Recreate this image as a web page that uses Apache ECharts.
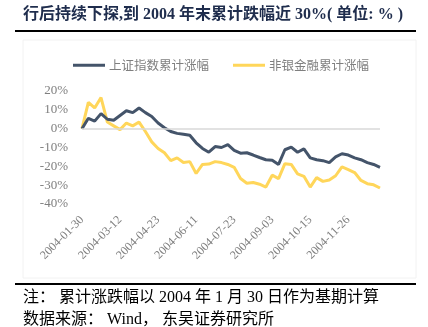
<!DOCTYPE html>
<html><head><meta charset="utf-8">
<script src="https://cdn.jsdelivr.net/npm/echarts@6/dist/echarts.min.js"></script>
<style>html,body{margin:0;padding:0;background:#fff;}#c{width:428px;height:327px;}</style>
</head><body><div id="c"></div>
<script>
const categories = ['2004-01-30','2004-02-06','2004-02-13','2004-02-20','2004-02-27','2004-03-05','2004-03-12','2004-03-19','2004-03-26','2004-04-02','2004-04-09','2004-04-16','2004-04-23','2004-04-30','2004-05-14','2004-05-21','2004-05-28','2004-06-04','2004-06-11','2004-06-18','2004-06-25','2004-07-02','2004-07-09','2004-07-16','2004-07-23','2004-07-30','2004-08-06','2004-08-13','2004-08-20','2004-08-27','2004-09-03','2004-09-10','2004-09-17','2004-09-24','2004-09-30','2004-10-08','2004-10-15','2004-10-22','2004-10-29','2004-11-05','2004-11-12','2004-11-19','2004-11-26','2004-12-03','2004-12-10','2004-12-17','2004-12-24','2004-12-31'];
const shIndex = [0,5.5,4,8,5,4.5,7,9.5,8.5,11,8.5,6.5,3,0.5,-1.5,-2.5,-3,-3.5,-7.5,-10.5,-12.5,-9.5,-10,-8.5,-11.5,-13,-12.8,-14,-15.3,-16.5,-16.8,-19,-11.2,-9.8,-12.5,-10.7,-15.5,-16.5,-17,-18,-15,-13.3,-14,-15.5,-16.5,-18,-19,-20.5];
const nonBank = [0,14,11,16.5,3.5,1.5,-0.5,3,1.5,3.5,-1.5,-7,-10.5,-12.8,-17,-15.5,-18,-17.5,-23.8,-19,-18.8,-17.5,-18,-19,-20.5,-26.5,-29,-28.6,-29.5,-31,-24.7,-26.5,-18.6,-19,-24,-25.3,-31,-26,-28,-27.3,-25,-20.3,-21.7,-23.3,-27.5,-29.2,-29.8,-31.5];
const seriesNames = ['上证指数累计涨幅','非银金融累计涨幅'];
const yTicks = {min:-40, max:20, interval:10};

const chart = echarts.init(document.getElementById('c'), null, {renderer:'canvas'});
const serif = '"Liberation Serif","Noto Sans CJK SC",serif';
chart.setOption({
  animation:false,
  grid:{left:82,right:48,top:91,bottom:123},
  legend:{
    top:54,left:68,itemWidth:32,itemHeight:3,itemGap:24,
    icon:'rect',
    textStyle:{color:'#7f7f7f',fontSize:12.5,fontFamily:'"Noto Sans CJK SC",sans-serif',padding:[0,0,0,-1]},
    data:seriesNames
  },
  xAxis:{
    type:'category',data:categories,boundaryGap:false,
    axisLine:{show:false},axisTick:{show:false},
    axisLabel:{interval:5,rotate:45,color:'#7f7f7f',fontSize:12,fontFamily:serif,margin:14}
  },
  yAxis:{
    type:'value',min:yTicks.min,max:yTicks.max,interval:yTicks.interval,
    splitLine:{show:false},axisLine:{show:false},axisTick:{show:false},
    axisLabel:{formatter:'{value}%',color:'#7f7f7f',fontSize:13,fontFamily:serif,margin:14}
  },
  series:[
    {name:seriesNames[0],type:'line',data:shIndex,symbol:'none',z:3,
     lineStyle:{color:'#44546a',width:3},itemStyle:{color:'#44546a'},
     markLine:{silent:true,symbol:'none',label:{show:false},lineStyle:{color:'#d9d9d9',width:1.5,type:'solid'},data:[{yAxis:0}]}},
    {name:seriesNames[1],type:'line',data:nonBank,symbol:'none',z:2,
     lineStyle:{color:'#ffd65a',width:3},itemStyle:{color:'#ffd65a'}}
  ],
  graphic:[
    {type:'text',left:23,top:7,style:{text:'行后持续下探,到 2004 年末累计跌幅近 30%( 单位: % )',fill:'#1f2d4d',font:'bold 16px '+serif}},
    {type:'rect',shape:{x:15,y:30,width:401,height:2},style:{fill:'#000'}},
    {type:'rect',shape:{x:23,y:40,width:393,height:238},style:{fill:'none',stroke:'#f2f2f2',lineWidth:1},z:-1},
    {type:'rect',shape:{x:15,y:283,width:401,height:2},style:{fill:'#000'}},
    {type:'text',left:23,top:290,style:{text:'注： 累计涨跌幅以 2004 年 1 月 30 日作为基期计算',fill:'#000',font:'16px '+serif}},
    {type:'text',left:23,top:312,style:{text:'数据来源： Wind， 东吴证券研究所',fill:'#000',font:'16px '+serif}}
  ]
});
</script></body></html>
